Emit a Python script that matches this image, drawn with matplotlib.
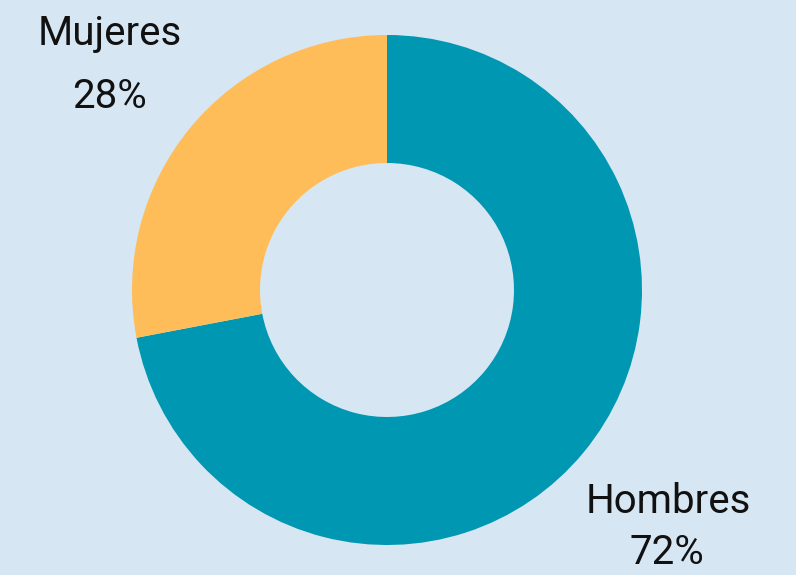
import matplotlib.pyplot as plt

labels = ["Hombres", "Mujeres"]
shares = [72, 28]
colors = ["#0097b2", "#ffbd59"]
bg = "#d6e6f2"

W, H = 796, 575
fig = plt.figure(figsize=(W / 100, H / 100), dpi=100, facecolor=bg)
ax = fig.add_axes([0, 0, 1, 1])
ax.set_facecolor(bg)

cx, cy, r_out = 387, 285, 255
ax.pie(shares, colors=colors, startangle=90, counterclock=False,
       center=(cx, cy), radius=r_out, frame=True,
       wedgeprops=dict(width=r_out - 127, linewidth=0))
ax.set_xlim(0, W)
ax.set_ylim(0, H)
ax.set_aspect("equal")
ax.axis("off")

font = dict(family=["Roboto", "DejaVu Sans"], color="#111111", fontsize=29,
            fontweight="normal", ha="center", va="baseline")
# Mujeres label (upper left)
ax.text(110, H - 45, labels[1], **font)
ax.text(109, H - 108, f"{shares[1]}%", **font)
# Hombres label (lower right)
ax.text(668, H - 513, labels[0], **font)
ax.text(667, H - 564, f"{shares[0]}%", **font)

fig.savefig("out.png", dpi=100, facecolor=bg)
